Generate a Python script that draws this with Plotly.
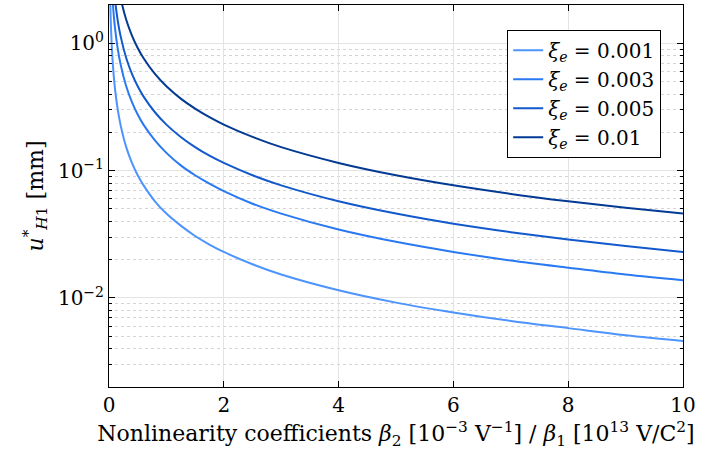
import plotly.graph_objects as go

x_vals = [0.02, 0.03, 0.05, 0.075, 0.1, 0.15, 0.2, 0.3, 0.4, 0.5, 0.6, 0.8, 1, 1.25, 1.5,
          1.75, 2, 2.5, 3, 4, 5, 6, 7, 8, 9, 10]

u_xi_0001 = [2.3, 1.53, 0.92, 0.61, 0.46, 0.307, 0.23, 0.153, 0.115, 0.092, 0.077, 0.0575,
             0.046, 0.037, 0.0307, 0.0263, 0.023, 0.0184, 0.0153, 0.0115, 0.0092, 0.0077,
             0.0066, 0.0058, 0.0051, 0.0046]
u_xi_0003 = [6.9, 4.6, 2.76, 1.84, 1.38, 0.92, 0.69, 0.46, 0.345, 0.276, 0.23, 0.173,
             0.138, 0.110, 0.092, 0.079, 0.069, 0.055, 0.046, 0.0345, 0.0276, 0.023,
             0.0197, 0.0173, 0.0153, 0.0138]
u_xi_0005 = [11.5, 7.67, 4.6, 3.07, 2.3, 1.53, 1.15, 0.767, 0.575, 0.46, 0.383, 0.2875,
             0.23, 0.184, 0.153, 0.131, 0.115, 0.092, 0.0767, 0.0575, 0.046, 0.0383,
             0.0329, 0.0288, 0.0256, 0.023]
u_xi_001 = [23, 15.3, 9.2, 6.13, 4.6, 3.07, 2.3, 1.53, 1.15, 0.92, 0.767, 0.575,
            0.46, 0.368, 0.307, 0.263, 0.23, 0.184, 0.153, 0.115, 0.092, 0.0767,
            0.0657, 0.0575, 0.0511, 0.046]

series_names = ["0.001", "0.003", "0.005", "0.01"]
series_vals = [u_xi_0001, u_xi_0003, u_xi_0005, u_xi_001]
colors = ["#4d94ff", "#2979f2", "#1259cc", "#033a94"]

x_ticks = [0, 2, 4, 6, 8, 10]
y_major = [0.01, 0.1, 1]
y_major_text = ["10<sup>−2</sup>", "10<sup>−1</sup>", "10<sup>0</sup>"]
y_minor = [m * 10.0 ** e for e in (-3, -2, -1, 0) for m in range(2, 10)]

FONT = "DejaVu Serif"

fig = go.Figure()
for name, vals, c in zip(series_names, series_vals, colors):
    fig.add_trace(go.Scatter(
        x=x_vals, y=vals, mode="lines", line=dict(color=c, width=2, shape="spline"),
        name=f"<i>ξ</i><sub><i>e</i></sub> = {name}",
    ))

fig.update_layout(
    width=713, height=466,
    margin=dict(l=109, r=30, t=5, b=79),
    paper_bgcolor="white", plot_bgcolor="white",
    font=dict(family=FONT, size=20, color="black"),
    showlegend=True,
    legend=dict(
        x=0.962, y=0.935, xanchor="right", yanchor="top",
        bgcolor="white", bordercolor="black", borderwidth=1,
        font=dict(family=FONT, size=20),
        tracegroupgap=0, itemwidth=30,
        entrywidth=150, entrywidthmode="pixels",
    ),
    xaxis=dict(
        range=[0, 10], tickvals=x_ticks, ticktext=[str(v) for v in x_ticks],
        showline=True, linecolor="black", linewidth=1, mirror="ticks",
        ticks="inside", ticklen=6, tickcolor="black",
        showgrid=True, gridcolor="#e3e3e3", gridwidth=1, zeroline=False,
        title=dict(text="Nonlinearity coefficients <i>β</i><sub>2</sub> [10<sup>−3</sup> V<sup>−1</sup>] / <i>β</i><sub>1</sub> [10<sup>13</sup> V/C<sup>2</sup>]",
                   standoff=9, font=dict(family=FONT, size=22)),
        tickfont=dict(family=FONT, size=20),
    ),
    yaxis=dict(
        type="log", range=[-2.699, 0.301],
        tickmode="array", tickvals=y_major, ticktext=y_major_text,
        showline=True, linecolor="black", linewidth=1, mirror="ticks",
        ticks="inside", ticklen=6, tickcolor="black",
        showgrid=True, gridcolor="#e3e3e3", gridwidth=1, zeroline=False,
        minor=dict(tickmode="array", tickvals=y_minor, ticks="inside", ticklen=3,
                   tickcolor="black", showgrid=True, gridcolor="#d4d4d4",
                   griddash="dot", gridwidth=1),
        title=dict(text="<i>u</i><sup>*</sup><sub><i>H</i>1</sub> [mm]", standoff=8,
                   font=dict(family=FONT, size=22)),
        tickfont=dict(family=FONT, size=20),
    ),
)

fig.write_html("out.html", config={"displayModeBar": False},
               post_script="document.body.style.margin='0px';")
